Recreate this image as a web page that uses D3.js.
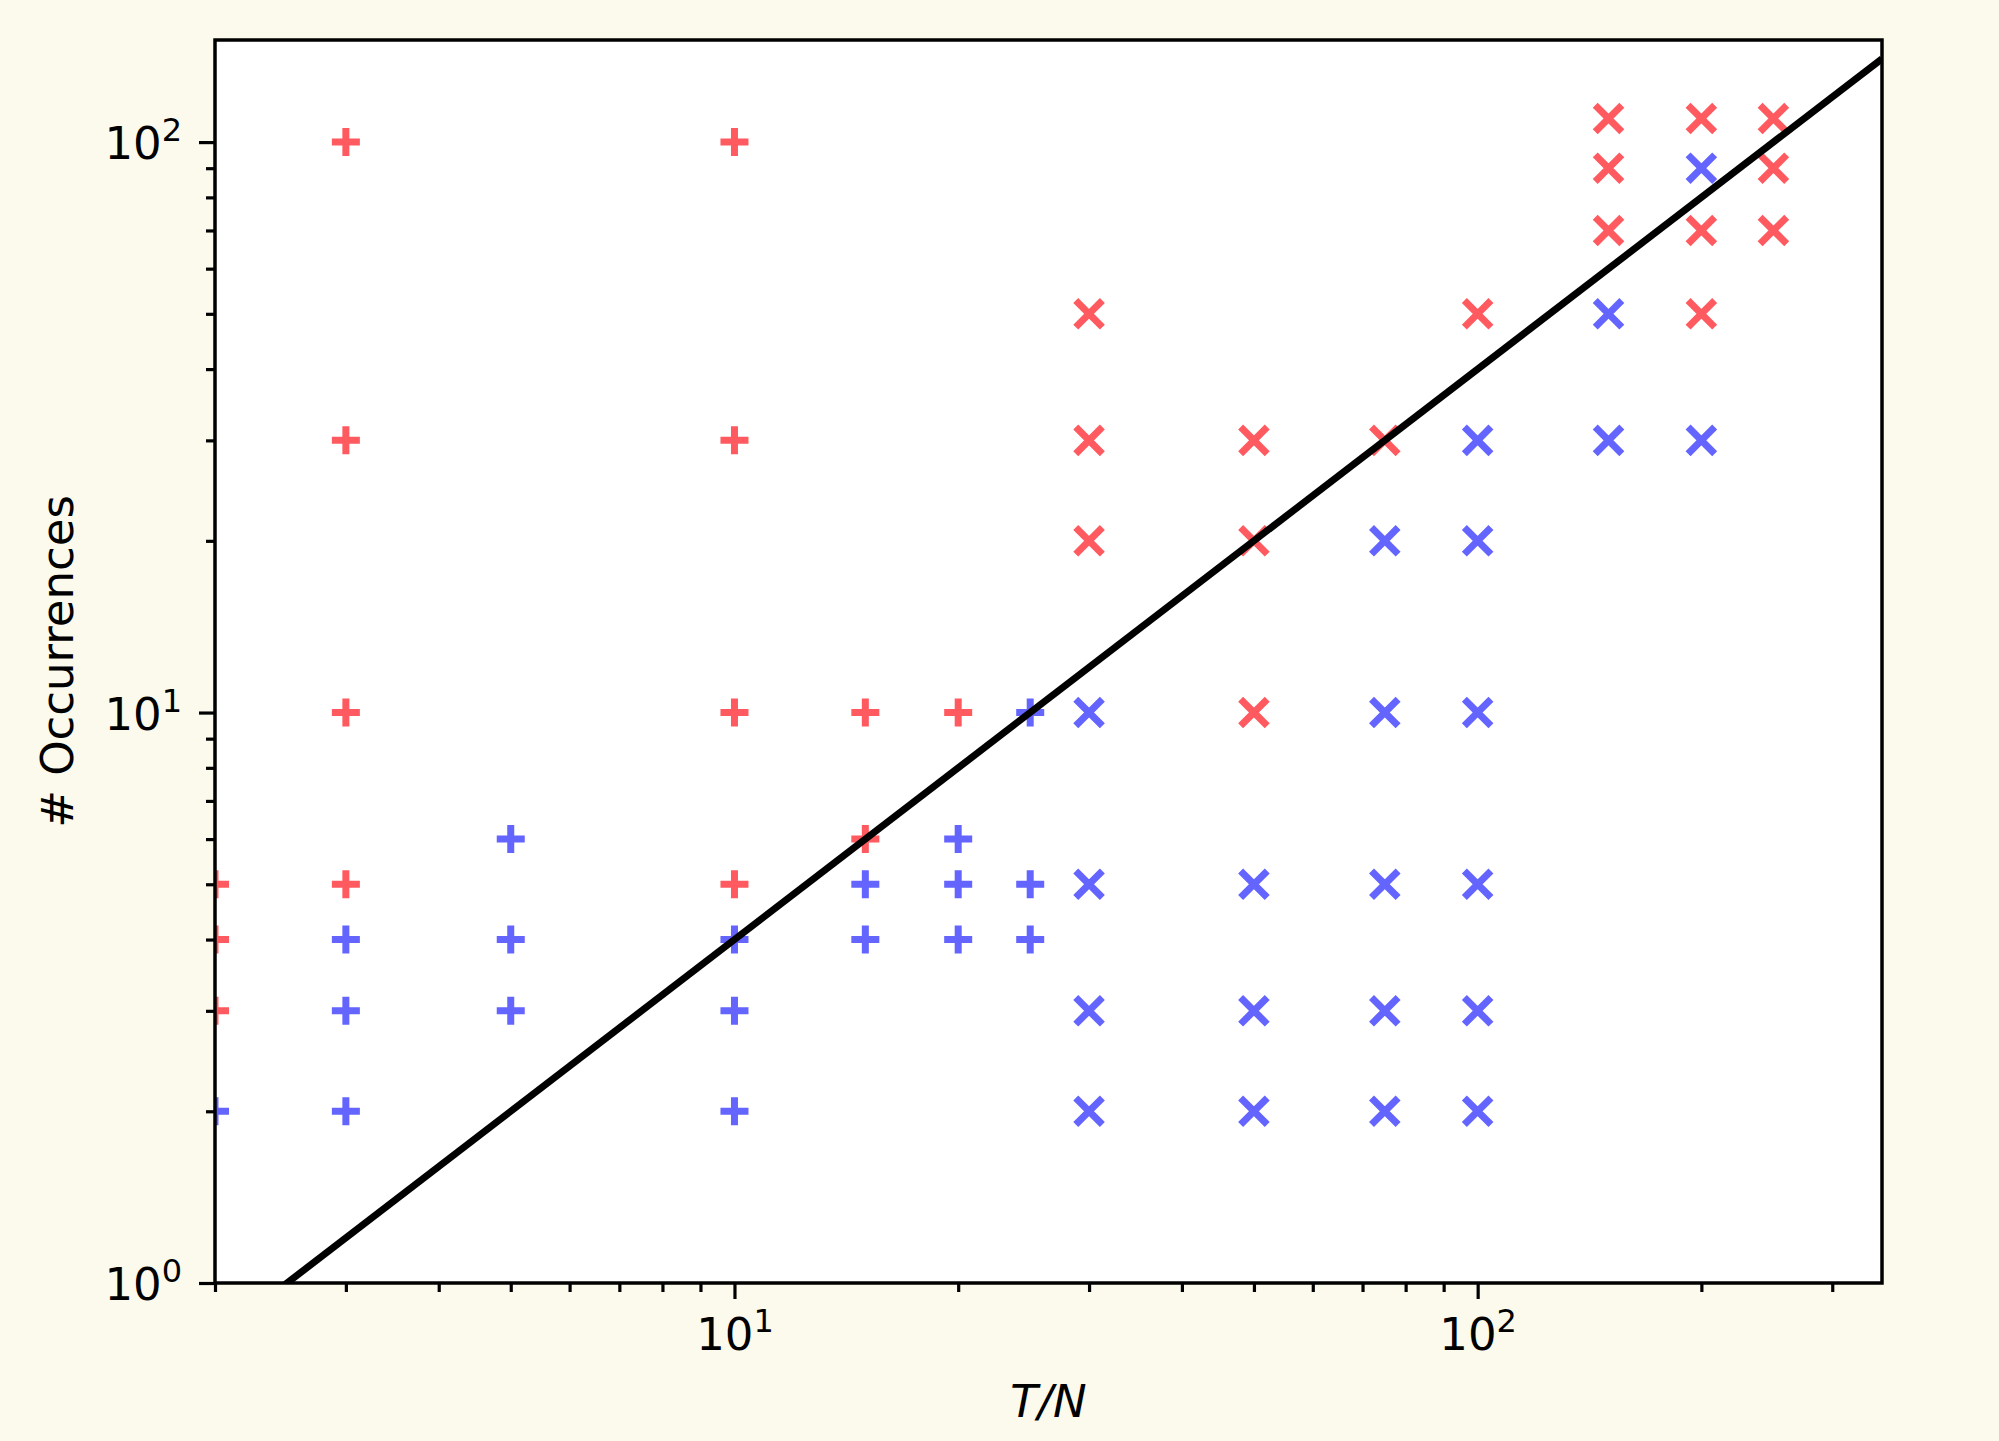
<!DOCTYPE html>
<html>
<head>
<meta charset="utf-8">
<script src="https://cdn.jsdelivr.net/npm/d3@7"></script>
<style>
  body { margin: 0; background: #fcfaed; }
  svg { display: block; }
  text { font-family: "DejaVu Sans", sans-serif; fill: #000; }
</style>
</head>
<body>
<div id="chart"></div>
<script>
// data: [T/N, # occurrences]
const redPlus = [[2,5],[2,4],[2,3],[3,100],[3,30],[3,10],[3,5],[10,100],[10,30],[10,10],[10,5],[15,10],[15,6],[20,10]];
const bluePlus = [[2,2],[3,4],[3,3],[3,2],[5,6],[5,4],[5,3],[10,4],[10,3],[10,2],[15,5],[15,4],[20,6],[20,5],[20,4],[25,10],[25,5],[25,4]];
const redCross = [[30,50],[30,30],[30,20],[50,30],[50,20],[50,10],[75,30],[100,50],[150,110],[150,90],[150,70],[200,110],[200,70],[200,50],[250,110],[250,90],[250,70]];
const blueCross = [[30,10],[30,5],[30,3],[30,2],[50,5],[50,3],[50,2],[75,20],[75,10],[75,5],[75,3],[75,2],[100,30],[100,20],[100,10],[100,5],[100,3],[100,2],[150,50],[150,30],[200,90],[200,30]];
const fitLine = [[2,0.8],[350,140]];

const xMajor = [10, 100];
const xMinor = [2,3,4,5,6,7,8,9,20,30,40,50,60,70,80,90,200,300];
const yMajor = [1, 10, 100];
const yMinor = [2,3,4,5,6,7,8,9,20,30,40,50,60,70,80,90];
const xDomain = [2, 350];
const yDomain = [1, 151];

const width = 1999, height = 1441;
const margin = {top: 40, right: 117, bottom: 158, left: 215};
const red = "#ff5a5f", blue = "#6464ff";
const fs = 45;

const svg = d3.select("#chart").append("svg")
    .attr("width", width)
    .attr("height", height);

const x = d3.scaleLog().domain(xDomain).range([margin.left, width - margin.right]);
const y = d3.scaleLog().domain(yDomain).range([height - margin.bottom, margin.top]);

svg.append("rect")
    .attr("x", margin.left).attr("y", margin.top)
    .attr("width", x.range()[1] - x.range()[0])
    .attr("height", y.range()[0] - y.range()[1])
    .attr("fill", "#fff");

svg.append("clipPath").attr("id", "clip")
  .append("rect")
    .attr("x", margin.left).attr("y", margin.top)
    .attr("width", x.range()[1] - x.range()[0])
    .attr("height", y.range()[0] - y.range()[1]);

const plot = svg.append("g").attr("clip-path", "url(#clip)");

const s = 28, h = s / 2;
const plusPath = `M${-h},0H${h}M0,${-h}V${h}`;
const crossPath = `M${-h + 0.7},${-h + 0.7}L${h - 0.7},${h - 0.7}M${-h + 0.7},${h - 0.7}L${h - 0.7},${-h + 0.7}`;

function markers(data, path, color) {
  plot.append("g").selectAll("path")
    .data(data)
    .enter()
    .append("path")
    .attr("transform", d => `translate(${x(d[0])},${y(d[1])})`)
    .attr("d", path)
    .attr("fill", "none")
    .attr("stroke", color)
    .attr("stroke-width", 7);
}
markers(redPlus, plusPath, red);
markers(bluePlus, plusPath, blue);
markers(redCross, crossPath, red);
markers(blueCross, crossPath, blue);

// fitted line, on top of the markers
plot.append("path")
    .datum(fitLine)
    .attr("d", d3.line().x(d => x(d[0])).y(d => y(d[1])))
    .attr("fill", "none")
    .attr("stroke", "#000")
    .attr("stroke-width", 7);

// axes
function styleAxis(g) {
  g.select(".domain").remove();
  g.selectAll(".tick line").attr("stroke", "#000").attr("stroke-width", 3.2);
}
const sup = (g, anchor) => {
  g.selectAll(".tick text").each(function(d) {
    const t = d3.select(this).text("");
    t.attr("font-size", fs).attr("text-anchor", anchor);
    t.append("tspan").text("10");
    t.append("tspan").attr("dy", -18).attr("font-size", 32).text(Math.round(Math.log10(d)));
  });
};

const xb = height - margin.bottom;
svg.append("g")
    .attr("transform", `translate(0,${xb})`)
    .call(d3.axisBottom(x).tickValues(xMinor).tickSize(9).tickFormat(""))
    .call(styleAxis);
svg.append("g")
    .attr("transform", `translate(0,${xb})`)
    .call(d3.axisBottom(x).tickValues(xMajor).tickSize(16).tickPadding(0))
    .call(styleAxis)
    .call(g => {
      sup(g, "middle");
      g.selectAll(".tick text").attr("y", 67).attr("dy", null);
    });

svg.append("g")
    .attr("transform", `translate(${margin.left},0)`)
    .call(d3.axisLeft(y).tickValues(yMinor).tickSize(9).tickFormat(""))
    .call(styleAxis);
svg.append("g")
    .attr("transform", `translate(${margin.left},0)`)
    .call(d3.axisLeft(y).tickValues(yMajor).tickSize(16))
    .call(styleAxis)
    .call(g => {
      sup(g, "end");
      g.selectAll(".tick text").attr("x", -33).attr("y", 16.5).attr("dy", null);
    });

// frame
svg.append("rect")
    .attr("x", margin.left).attr("y", margin.top)
    .attr("width", x.range()[1] - x.range()[0])
    .attr("height", y.range()[0] - y.range()[1])
    .attr("fill", "none")
    .attr("stroke", "#000")
    .attr("stroke-width", 3.5);

// labels
svg.append("text")
    .attr("x", (x.range()[0] + x.range()[1]) / 2)
    .attr("y", 1417)
    .attr("text-anchor", "middle")
    .attr("font-size", fs)
    .attr("font-style", "italic")
    .text("T/N");

svg.append("text")
    .attr("transform", `translate(73,${(y.range()[0] + y.range()[1]) / 2}) rotate(-90)`)
    .attr("text-anchor", "middle")
    .attr("font-size", fs)
    .text("# Occurrences");
</script>
</body>
</html>
